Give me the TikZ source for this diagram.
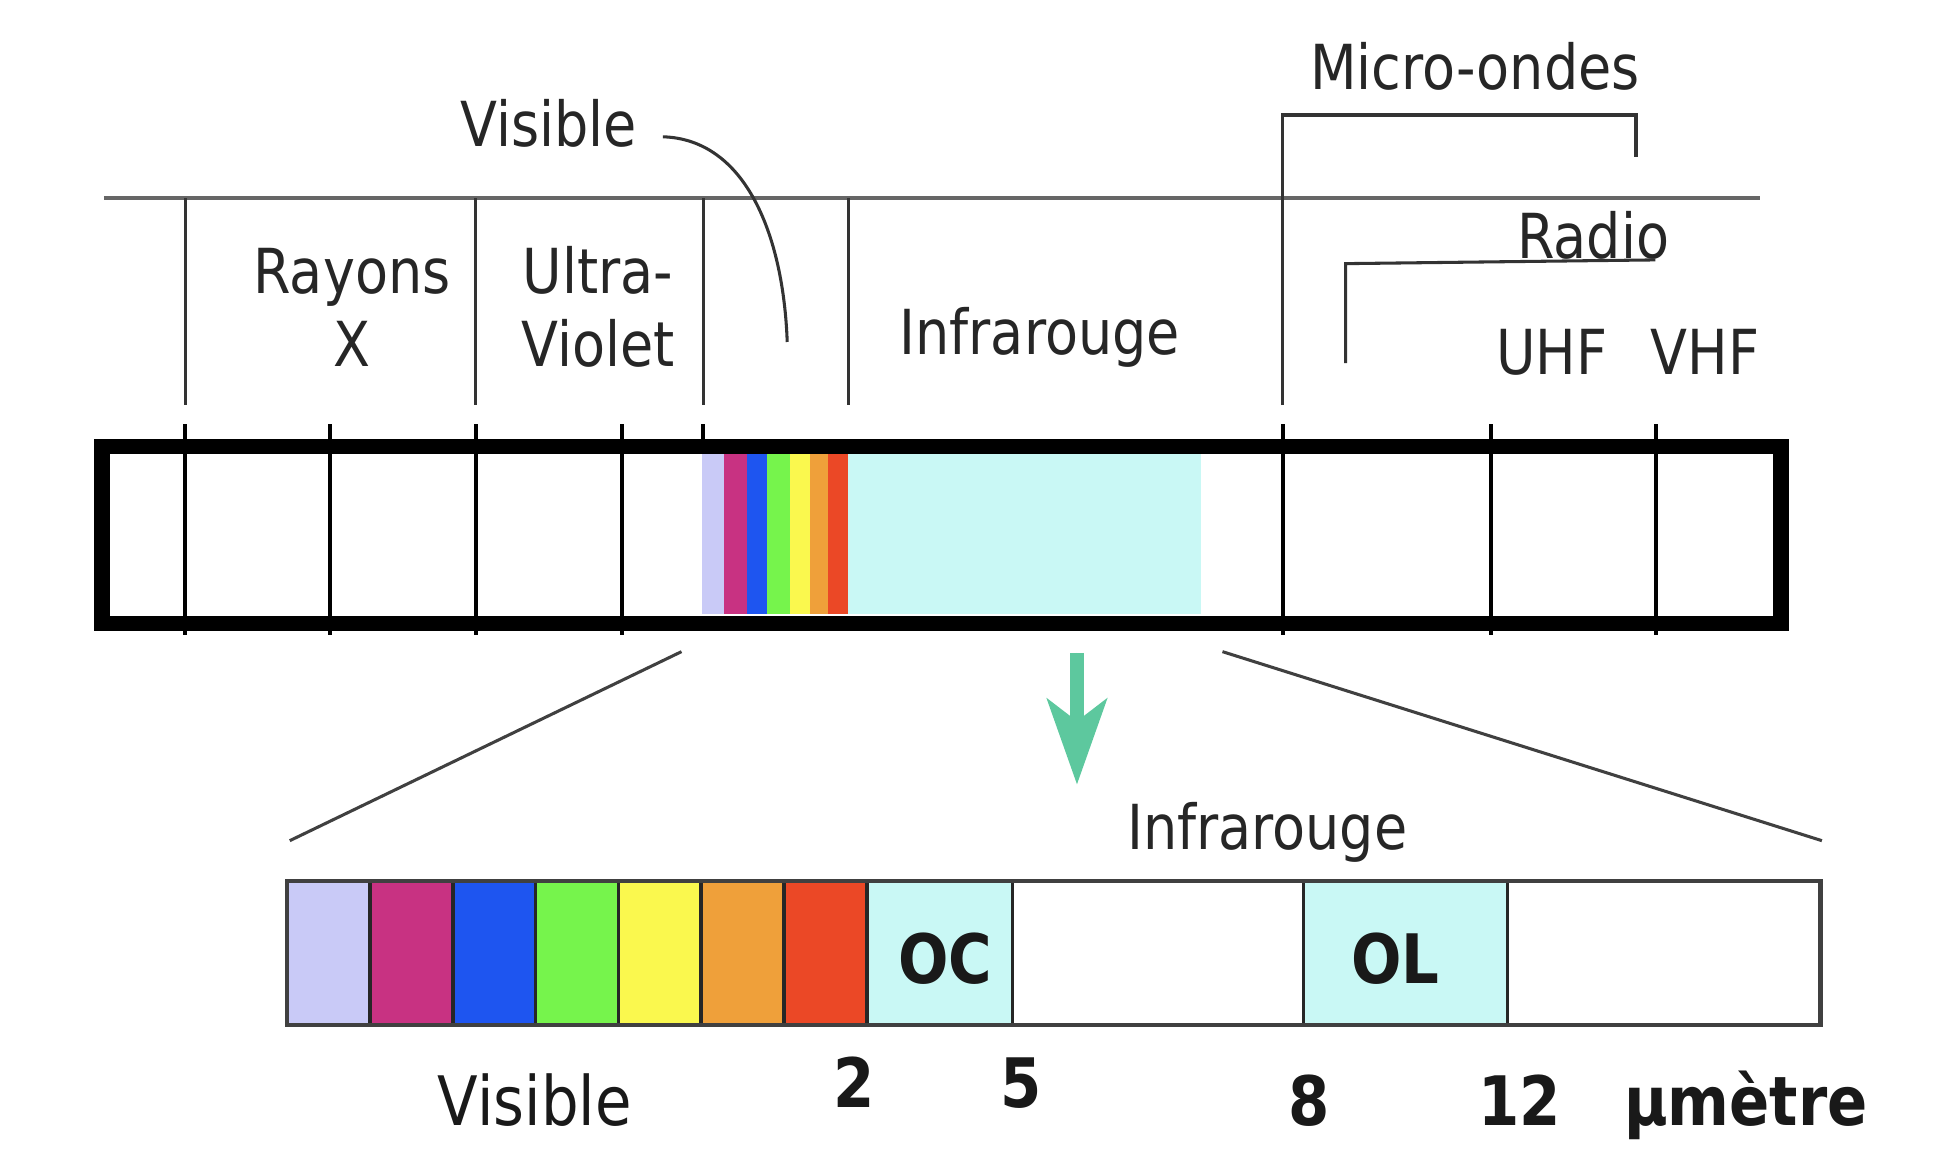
\documentclass[tikz,border=0pt]{standalone}
\usepackage{fontspec}
\setmainfont{DejaVu Sans}[FakeStretch=0.87]
\usepackage{xcolor}
\usepackage{tikz}
\usetikzlibrary{arrows.meta}
\definecolor{specLav}{HTML}{C9CAF7}
\definecolor{specMag}{HTML}{C83282}
\definecolor{specBlu}{HTML}{1E55F0}
\definecolor{specGre}{HTML}{76F44C}
\definecolor{specYel}{HTML}{FAF84E}
\definecolor{specOra}{HTML}{EFA03A}
\definecolor{specRed}{HTML}{EB4826}
\definecolor{specCya}{HTML}{C9F8F5}
\definecolor{arrGreen}{HTML}{5DC89E}

\begin{document}
\begin{tikzpicture}[
  x=0.1mm, y=-0.1mm,
  lbl/.style={font=\fontsize{14.2}{16.8}\selectfont, text=black!85, inner sep=0pt, anchor=base},
  bigl/.style={font=\fontsize{15.6}{18}\selectfont, text=black!90, inner sep=0pt, anchor=base},
  boldl/.style={bigl, font=\fontsize{15.6}{18}\selectfont\bfseries},
  rule/.style={line width=0.7pt, draw=black!80},
  hline/.style={line width=0.9pt, draw=black!60},
  frame/.style={line width=3.5pt, draw=black},
  cell/.style={line width=0.8pt, draw=black!85},
  zoomln/.style={line width=0.7pt, draw=black!75},
  arr/.style={-{Stealth[length=19.5pt, width=13.5pt, inset=5pt]}, line width=3.4pt, draw=arrGreen, fill=arrGreen},
]
\useasboundingbox (0,0) rectangle (1568,938);

% Top labels
\node[lbl] (visTop) at (441,118) {Visible};
\node[lbl] (rayA) at (283,236) {Rayons};
\node[lbl] (rayB) at (283,295) {X};
\node[lbl] (uvA) at (481,236) {Ultra-};
\node[lbl] (uvB) at (481,295) {Violet};
\node[lbl] (irTop) at (836,285) {Infrarouge};
\node[lbl] (micro) at (1186,72) {Micro-ondes};
\node[lbl] (radio) at (1281,208) {Radio};
\node[lbl] (uhf) at (1248,301.5) {UHF};
\node[lbl] (vhf) at (1371,301.5) {VHF};

% Band dividers
\draw[hline] (83.5,159.5) coordinate (hlL) -- (1415,159.5) coordinate (hlR);
\foreach \x in {148.8, 382.6, 565.5, 682}
  \draw[rule] (\x,159.5) -- (\x,325.7);
\coordinate (mwBot) at (1031.5,325.7);
\coordinate (mwTop) at (1031.5,92.5);
\coordinate (mwEnd) at (1315.5,126);
\draw[rule] (mwBot) -- (mwTop) -| (mwEnd);
\coordinate (radBot) at (1082,292);
\coordinate (radCorner) at (1082,212);
\coordinate (radEnd) at (1331,209);
\draw[rule] (radBot) -- (radCorner) -- (radEnd);
\coordinate (visA) at (533,110);
\coordinate (visB) at (633,275);
\draw[rule] (visA) .. controls (600,112) and (630,190) .. (visB);

% Spectrum bar
\foreach \a/\b/\c in {564.5/582/specLav, 582/601/specMag, 601/617/specBlu, 617/635/specGre,
                      635/651/specYel, 651/666/specOra, 666/682/specRed, 682/966/specCya}
  \fill[\c] (\a,365) rectangle (\b,494);
\foreach \x in {148.8, 265.6, 382.6, 500, 1031.5, 1199, 1331.6}
  \draw[rule, line width=0.9pt, draw=black] (\x,341) -- (\x,510.6);
\draw[rule, line width=0.9pt, draw=black] (565.5,341) -- (565.5,354);
\draw[frame] (82,359) rectangle (1432,501.5);

% Zoom
\coordinate (zlA) at (548,524);
\coordinate (zlB) at (233,676);
\coordinate (zrA) at (983,524);
\coordinate (zrB) at (1465,676);
\draw[zoomln] (zlA) -- (zlB);
\draw[zoomln] (zrA) -- (zrB);
\coordinate (arrTop) at (866,525);
\coordinate (arrTip) at (866,631);
\draw[arr] (arrTop) -- (arrTip);

% Detail bar
\node[lbl] (irLow) at (1019,683) {Infrarouge};
\foreach \c [count=\i from 0] in {specLav, specMag, specBlu, specGre, specYel, specOra, specRed}
  \draw[cell, fill=\c] (231+66.57*\i,708.5) rectangle (231+66.57*\i+66.57,824);
\draw[cell, fill=specCya] (697,708.5) rectangle (814,824);
\draw[cell, fill=specCya] (1048,708.5) rectangle (1212,824);
\draw[cell, line width=1pt, draw=black!75] (231,708.5) rectangle (1464,824);
\node[boldl] (oc) at (760,790.7) {OC};
\node[boldl] (ol) at (1122,790.7) {OL};

% Scale labels
\node[bigl] (visLow) at (430,905) {Visible};
\node[boldl] (n2) at (687,890.5) {2};
\node[boldl] (n5) at (821,890.5) {5};
\node[boldl] (n8) at (1053,905) {8};
\node[boldl] (n12) at (1222,905) {12};
\node[boldl] (unit) at (1404,905) {µmètre};

\end{tikzpicture}
\end{document}
